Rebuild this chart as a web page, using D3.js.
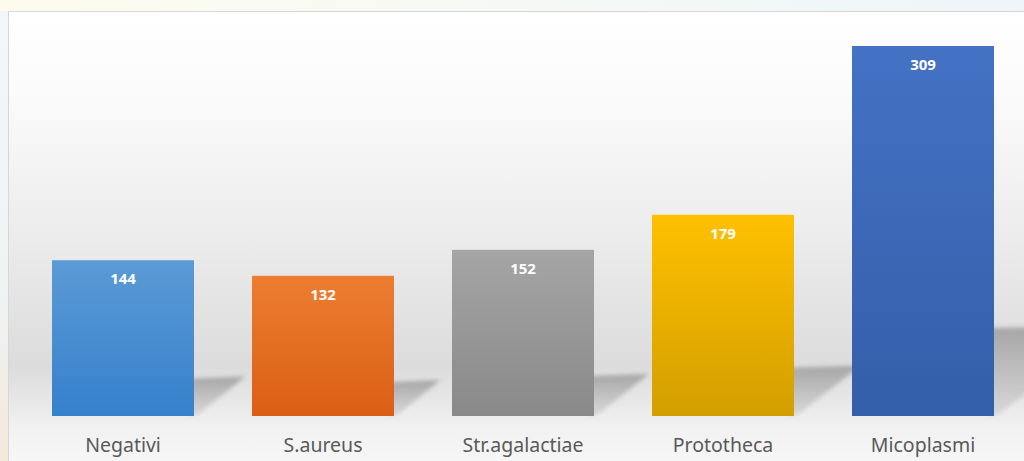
<!DOCTYPE html>
<html>
<head>
<meta charset="utf-8">
<script src="https://cdn.jsdelivr.net/npm/d3@7"></script>
<style>
  html, body { margin: 0; padding: 0; background: #f3f7f9; }
  svg { display: block; }
</style>
</head>
<body>
<div id="app"></div>
<script>

var categories = ["Negativi", "S.aureus", "Str.agalactiae", "Prototheca", "Micoplasmi"];
var values = [144, 132, 152, 179, 309];
var topColors = ["#5b9bd5", "#ed7d31", "#a5a5a5", "#ffc000", "#4472c4"];
var bottomColors = ["#3580cc", "#da5f14", "#898989", "#d39f00", "#335ea9"];

var width = 1024, height = 461;

var svg = d3.select("#app")
    .append("svg")
    .attr("width", width)
    .attr("height", height);

var defs = svg.append("defs");

// page background, soft pastel
var pageGrad = defs.append("linearGradient")
    .attr("id", "pageGrad")
    .attr("x1", 0).attr("y1", 0).attr("x2", 0).attr("y2", 1);
pageGrad.append("stop").attr("offset", "0%").attr("stop-color", "#f1f7fa");
pageGrad.append("stop").attr("offset", "60%").attr("stop-color", "#eef4f6");
pageGrad.append("stop").attr("offset", "100%").attr("stop-color", "#f5e8da");

var topGrad = defs.append("linearGradient")
    .attr("id", "topGrad")
    .attr("x1", 0).attr("y1", 0).attr("x2", 1).attr("y2", 0);
topGrad.append("stop").attr("offset", "0%").attr("stop-color", "#fdfbee");
topGrad.append("stop").attr("offset", "45%").attr("stop-color", "#f6f9f4");
topGrad.append("stop").attr("offset", "100%").attr("stop-color", "#eef6fa");

// chart area: wall then floor
var areaGrad = defs.append("linearGradient")
    .attr("id", "areaGrad")
    .attr("x1", 0).attr("y1", 0).attr("x2", 0).attr("y2", 1);
areaGrad.append("stop").attr("offset", "0%").attr("stop-color", "#ffffff");
areaGrad.append("stop").attr("offset", "20%").attr("stop-color", "#fafafa");
areaGrad.append("stop").attr("offset", "50%").attr("stop-color", "#ebebeb");
areaGrad.append("stop").attr("offset", "77%").attr("stop-color", "#dcdcdc");
areaGrad.append("stop").attr("offset", "85%").attr("stop-color", "#e8e8e8");
areaGrad.append("stop").attr("offset", "90%").attr("stop-color", "#f1f1f1");
areaGrad.append("stop").attr("offset", "100%").attr("stop-color", "#f8f8f8");

var shadowGrad = defs.append("linearGradient")
    .attr("id", "shadowGrad")
    .attr("x1", 0).attr("y1", 0).attr("x2", 0).attr("y2", 1);
shadowGrad.append("stop").attr("offset", "0%").attr("stop-color", "#a2a2a2").attr("stop-opacity", 0.95);
shadowGrad.append("stop").attr("offset", "100%").attr("stop-color", "#c4c4c4").attr("stop-opacity", 0.5);

defs.append("filter")
    .attr("id", "blur")
    .attr("x", "-20%").attr("y", "-20%").attr("width", "140%").attr("height", "140%")
    .append("feGaussianBlur")
    .attr("stdDeviation", 2);

categories.forEach(function (c, i) {
    var g = defs.append("linearGradient")
        .attr("id", "barGrad" + i)
        .attr("x1", 0).attr("y1", 0).attr("x2", 0).attr("y2", 1);
    g.append("stop").attr("offset", "0%").attr("stop-color", topColors[i]);
    g.append("stop").attr("offset", "100%").attr("stop-color", bottomColors[i]);
});

svg.append("rect")
    .attr("width", width).attr("height", height)
    .style("fill", "url(#pageGrad)");
svg.append("rect")
    .attr("width", width).attr("height", 11)
    .style("fill", "url(#topGrad)");

svg.append("rect")
    .attr("x", 8.5).attr("y", 11.5)
    .attr("width", width + 10).attr("height", height)
    .style("fill", "url(#areaGrad)")
    .style("stroke", "#d6d6d6")
    .style("stroke-width", 1);

var x = d3.scaleBand()
    .domain(categories)
    .range([23, 1023])
    .paddingInner(0.29)
    .paddingOuter(0.145);

var y = d3.scaleLinear()
    .domain([24, 309])
    .range([416, 46]);

var data = categories.map(function (c, i) {
    return { name: c, value: values[i], idx: i };
});

// shadows cast to the right of each bar
svg.append("g")
    .selectAll("path")
    .data(data)
    .enter()
    .append("path")
    .attr("d", function (d) {
        var h = y(24) - y(d.value);
        var x0 = x(d.name) + x.bandwidth();
        var base = y(24);
        var sh = h * 0.235, sw = h * 0.33;
        return "M" + (x0 - 4) + "," + (base - sh - 1) +
            "L" + (x0 + sw) + "," + (base - sh - 3) +
            "L" + (x0 + 2) + "," + base +
            "L" + (x0 - 4) + "," + base + "Z";
    })
    .style("fill", "url(#shadowGrad)")
    .attr("filter", "url(#blur)");

var bars = svg.append("g")
    .selectAll(".bar")
    .data(data)
    .enter()
    .append("g")
    .attr("class", "bar");

bars.append("rect")
    .attr("x", function (d) { return x(d.name); })
    .attr("y", function (d) { return y(d.value); })
    .attr("width", x.bandwidth())
    .attr("height", function (d) { return y(24) - y(d.value); })
    .style("fill", function (d) { return "url(#barGrad" + d.idx + ")"; });

bars.append("text")
    .attr("x", function (d) { return x(d.name) + x.bandwidth() / 2; })
    .attr("y", function (d) { return y(d.value) + 24; })
    .attr("text-anchor", "middle")
    .style("font-family", "'Open Sans', 'Noto Sans', sans-serif")
    .style("font-weight", "bold")
    .style("font-size", "15px")
    .style("fill", "#ffffff")
    .text(function (d) { return d.value; });

var xAxis = svg.append("g")
    .attr("transform", "translate(0,416)")
    .call(d3.axisBottom(x).tickSize(0).tickPadding(22));

xAxis.select(".domain").remove();
xAxis.selectAll("text")
    .style("font-family", "'Noto Sans', 'Open Sans', sans-serif")
    .style("font-size", "19.5px")
    .style("fill", "#595959");

</script>
</body>
</html>
